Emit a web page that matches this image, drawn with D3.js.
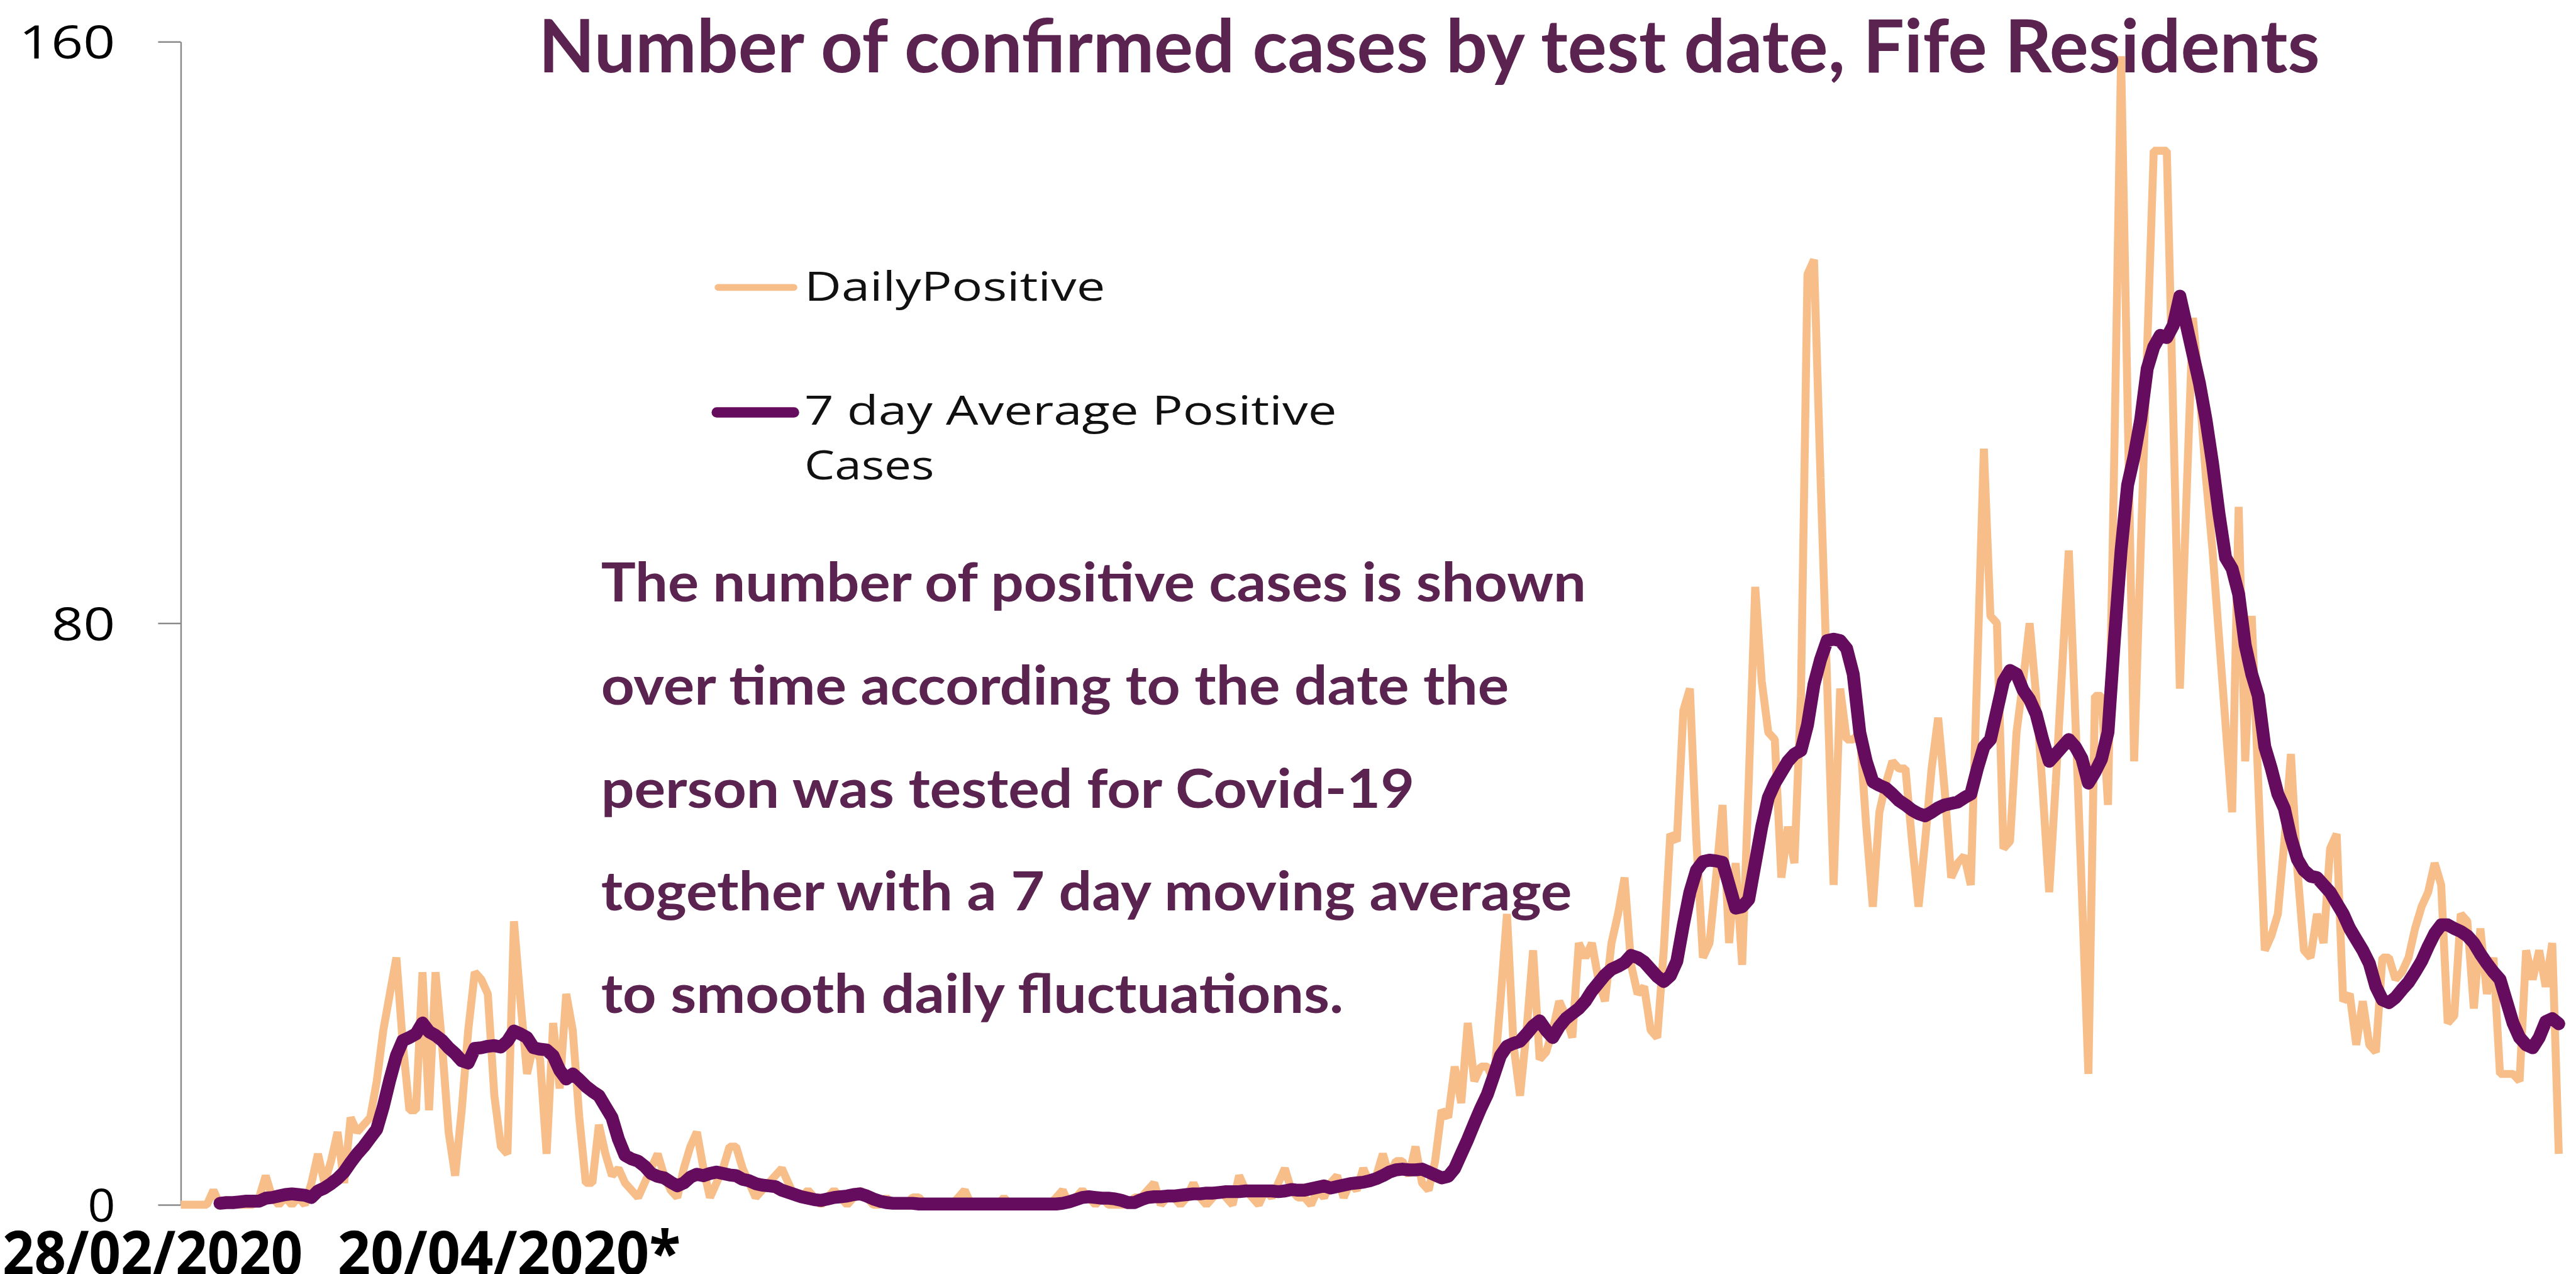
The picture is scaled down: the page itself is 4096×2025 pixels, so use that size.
<!DOCTYPE html>
<html><head><meta charset="utf-8">
<script src="https://cdn.jsdelivr.net/npm/d3@7"></script>
<style>html,body{margin:0;padding:0;background:#fff;overflow:hidden}</style>
</head><body>
<svg id="chart"></svg>
<script>
// ---------- data ----------
const titleText = "Number of confirmed cases by test date, Fife Residents";
const xLabels = ["28/02/2020", "20/04/2020*"];
const yTicks = [0, 80, 160];
const legendLabels = ["DailyPositive", "7 day Average Positive", "Cases"];
const noteLines = [
  "The number of positive cases is shown",
  "over time according to the date the",
  "person was tested for Covid-19",
  "together with a 7 day moving average",
  "to smooth daily fluctuations."
];
// one value per day from 28/02/2020 (day 0) onwards
const dailyPositive = [
  0,0,0,0,0,2,0,0,0,0,
  0,0,1,4,1,0,1,0,1,0,
  3,7,3,6,10,3,12,10,11,12,
  17,24,29,34,22,13,13,32,13,32,
  22,10,4,13,24,32,31,29,15,8,
  7,39,28,18,22,20,7,25,16,29,
  24,12,3,3,11,7,4,5,3,2,
  1,3,5,7,4,2,1,5,8,10,
  5,1,3,5,8,8,5,3,1,2,
  3,4,5,3,1,1,2,1,0,1,
  2,1,0,1,2,1,0,0,1,0,
  0,0,1,1,0,0,0,0,0,1,
  2,0,0,0,0,0,1,0,0,0,
  0,0,0,0,1,2,0,1,2,1,
  0,1,0,0,0,0,1,1,2,3,
  0,1,1,0,1,3,1,0,1,2,
  1,0,4,2,1,0,2,1,3,5,
  2,1,1,0,2,1,3,4,1,3,
  2,5,3,4,7,4,6,6,4,8,
  3,2,6,13,12,19,14,25,17,19,
  19,17,28,40,22,15,24,35,20,21,
  24,28,26,23,36,34,36,31,28,36,
  40,45,33,29,30,24,23,35,51,50,
  68,71,50,34,36,45,55,36,47,33,
  58,85,72,65,64,45,52,47,70,128,
  130,100,72,44,71,64,64,65,52,41,
  54,58,61,60,60,50,41,50,60,67,
  57,45,47,48,44,74,104,81,80,49,
  50,65,72,80,70,57,43,58,74,90,
  67,43,18,70,70,55,105,158,110,61,
  90,118,145,145,145,108,71,97,122,112,
  100,90,78,66,54,96,61,81,58,35,
  37,40,50,62,46,35,34,40,36,49,
  51,28,29,22,28,22,21,34,34,31,
  32,34,38,41,43,47,44,25,26,40,
  39,27,38,29,34,18,18,18,17,35,
  31,35,30,36,7
];
const avg7 = [
  null,null,null,null,null,null,0.2,0.3,0.3,0.4,
  0.5,0.5,0.5,0.9,1.0,1.2,1.4,1.5,1.4,1.3,
  1.0,1.9,2.3,2.9,3.6,4.5,5.8,7.0,8.0,9.2,
  10.4,13.5,17.2,20.5,22.6,23.0,23.5,25.0,23.8,23.3,
  22.6,21.6,20.8,19.8,19.5,21.5,21.6,21.8,21.9,21.7,
  22.5,23.9,23.5,23.0,21.6,21.4,21.3,20.5,18.5,17.3,
  18.0,17.2,16.3,15.6,15.0,13.5,12.0,9.0,6.8,6.3,
  6.0,5.3,4.3,3.9,3.7,3.1,2.6,3.0,3.8,4.2,
  4.0,4.3,4.5,4.3,4.1,4.0,3.5,3.3,2.9,2.7,
  2.6,2.5,2.0,1.7,1.4,1.1,0.9,0.7,0.6,0.8,
  1.0,1.1,1.2,1.4,1.5,1.2,0.8,0.5,0.3,0.2,
  0.2,0.2,0.2,0.1,0.1,0.1,0.1,0.1,0.1,0.1,
  0.1,0.1,0.1,0.1,0.1,0.1,0.1,0.1,0.1,0.1,
  0.1,0.1,0.1,0.1,0.1,0.2,0.4,0.7,1.0,1.1,
  1.0,0.9,0.9,0.8,0.6,0.3,0.3,0.7,1.0,1.1,
  1.1,1.2,1.2,1.3,1.4,1.5,1.5,1.6,1.6,1.7,
  1.8,1.8,1.8,1.9,1.9,1.9,1.9,1.9,1.8,1.9,
  2.1,2.0,2.0,2.2,2.4,2.6,2.3,2.5,2.7,2.9,
  3.0,3.1,3.3,3.6,4.0,4.5,4.8,4.9,4.8,4.8,
  4.9,4.5,4.1,3.7,3.9,5.0,7.0,9.0,11.2,13.3,
  15.2,17.8,20.5,21.8,22.2,22.5,23.5,24.6,25.3,24.0,
  23.0,24.5,25.6,26.3,27.0,28.0,29.4,30.5,31.6,32.4,
  32.8,33.3,34.3,34.0,33.4,32.4,31.4,30.7,31.5,33.5,
  38.5,43.0,46.0,47.2,47.4,47.3,47.1,44.0,40.8,41.0,
  42.0,47.0,52.0,56.0,58.0,59.5,61.0,62.0,62.5,66.0,
  71.6,75.0,77.6,77.8,77.6,76.5,73.0,65.0,61.0,58.2,
  57.7,57.3,56.5,55.6,55.0,54.3,53.8,53.5,54.0,54.6,
  55.0,55.2,55.4,56.0,56.5,60.0,63.0,64.0,68.0,72.0,
  73.5,73.0,70.8,69.5,67.5,64.0,61.0,62.0,63.0,64.0,
  63.0,61.4,58.0,59.5,61.3,65.0,78.0,90.0,99.0,103.0,
  108.0,115.0,118.0,119.6,119.3,121.0,125.0,121.0,117.0,113.0,
  108.0,102.0,95.0,89.0,87.5,84.0,77.0,73.0,70.0,63.0,
  60.0,56.5,54.5,50.5,47.5,46.0,45.2,45.0,44.0,43.0,
  41.5,40.0,38.0,36.5,35.0,33.2,30.0,28.2,27.8,28.5,
  29.6,30.6,32.0,33.5,35.5,37.3,38.5,38.5,38.0,37.6,
  37.0,36.0,34.5,33.2,32.0,31.0,28.0,25.0,23.0,22.0,
  21.6,23.0,25.2,25.6,24.9
];

// ---------- drawing (reference coordinates, scaled by viewBox) ----------
const W = 4205, H = 2079;
const svg = d3.select("#chart")
  .attr("width", 4096).attr("height", 2025)
  .attr("viewBox", `0 0 ${W} ${H}`);

svg.append("rect").attr("width", W).attr("height", H).attr("fill", "#fff");

const ORANGE = "#F7BE8A", PURPLE = "#660C5E", PLUM = "#5A2350";

const x = d3.scaleLinear().domain([0, dailyPositive.length - 1]).range([295, 4177]);
const y = d3.scaleLinear().domain([0, 160]).range([1966, 68]);

// y axis
const yAxis = d3.axisLeft(y).tickValues(yTicks).tickSize(37).tickSizeOuter(0).tickPadding(70);
const gy = svg.append("g").attr("transform", "translate(295,0)").call(yAxis);
gy.select(".domain").attr("stroke", "#8a8a8a").attr("stroke-width", 2.5);
gy.selectAll(".tick line").attr("stroke", "#8a8a8a").attr("stroke-width", 2.5);
const tickLen = {0: 45, 80: 104, 160: 157};
gy.selectAll(".tick text")
  .attr("font-family", "'Open Sans', 'DejaVu Sans', sans-serif")
  .attr("font-size", 76).attr("fill", "#000").attr("dy", "0.36em")
  .attr("textLength", d => tickLen[d]).attr("lengthAdjust", "spacingAndGlyphs");

// lines
const lineDaily = d3.line().x((d, i) => x(i)).y(d => y(d));
svg.append("path").datum(dailyPositive)
  .attr("d", lineDaily).attr("fill", "none")
  .attr("stroke", ORANGE).attr("stroke-width", 13).attr("stroke-linejoin", "bevel");

const lineAvg = d3.line().defined(d => d != null).x((d, i) => x(i)).y(d => y(d));
svg.append("path").datum(avg7)
  .attr("d", lineAvg).attr("fill", "none")
  .attr("stroke", PURPLE).attr("stroke-width", 21)
  .attr("stroke-linejoin", "round").attr("stroke-linecap", "round");

// legend
const lg = svg.append("g");
lg.append("line").attr("x1", 1172).attr("x2", 1296).attr("y1", 469).attr("y2", 469)
  .attr("stroke", ORANGE).attr("stroke-width", 11).attr("stroke-linecap", "round");
lg.append("line").attr("x1", 1170).attr("x2", 1296).attr("y1", 673).attr("y2", 673)
  .attr("stroke", PURPLE).attr("stroke-width", 17).attr("stroke-linecap", "round");
const legendPos = [[491, 491], [693, 869], [782, 212]];
lg.selectAll("text.lg").data(legendLabels).enter().append("text")
  .attr("x", 1313).attr("y", (d, i) => legendPos[i][0])
  .attr("font-family", "'Open Sans', 'DejaVu Sans', sans-serif")
  .attr("font-size", 66).attr("fill", "#111")
  .attr("textLength", (d, i) => legendPos[i][1]).attr("lengthAdjust", "spacingAndGlyphs")
  .text(d => d);

// annotation
const noteBase = [982, 1150, 1318, 1486, 1653];
const noteLen = [1608, 1482, 1328, 1585, 1212];
svg.append("g").selectAll("text").data(noteLines).enter().append("text")
  .attr("x", 981).attr("y", (d, i) => noteBase[i])
  .attr("font-family", "Lato, 'Open Sans', sans-serif").attr("font-weight", 700)
  .attr("font-size", 89).attr("fill", PLUM)
  .attr("textLength", (d, i) => noteLen[i]).attr("lengthAdjust", "spacingAndGlyphs")
  .text(d => d);

// title
svg.append("text").attr("x", 879).attr("y", 118)
  .attr("font-family", "Lato, 'Open Sans', sans-serif").attr("font-weight", 700)
  .attr("font-size", 120).attr("fill", PLUM)
  .attr("textLength", 2908).attr("lengthAdjust", "spacingAndGlyphs")
  .text(titleText);

// bottom date labels
const xLabPos = [[4, 490], [551, 560]];
svg.append("g").selectAll("text").data(xLabels).enter().append("text")
  .attr("x", (d, i) => xLabPos[i][0]).attr("y", 2080)
  .attr("font-family", "'Open Sans', 'DejaVu Sans', sans-serif").attr("font-weight", 700)
  .attr("font-size", 100).attr("fill", "#000")
  .attr("textLength", (d, i) => xLabPos[i][1]).attr("lengthAdjust", "spacingAndGlyphs")
  .text(d => d);
</script>
</body></html>
